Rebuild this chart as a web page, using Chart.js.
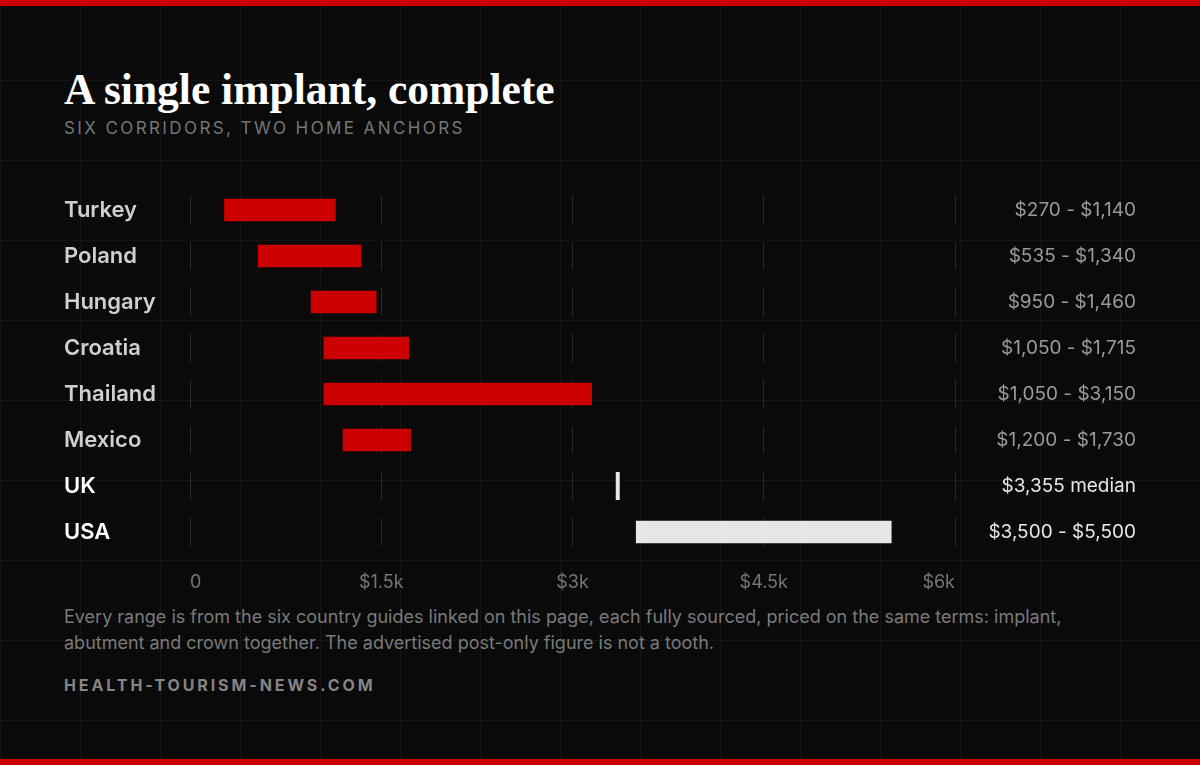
<!DOCTYPE html>
<html>
<head>
<meta charset="utf-8">
<script src="https://cdn.jsdelivr.net/npm/chart.js@4.4.0/dist/chart.umd.min.js"></script>
<style>
  html, body { margin: 0; padding: 0; }
  body {
    width: 1200px; height: 765px; overflow: hidden; position: relative;
    background-color: #0a0a0a;
    background-image:
      linear-gradient(to right, #151515 1px, transparent 1px),
      linear-gradient(to bottom, #151515 1px, transparent 1px);
    background-size: 80px 80px;
    font-family: Inter, "Noto Sans", sans-serif;
  }
  .bar-top, .bar-bottom { position: absolute; left: 0; width: 1200px; height: 6px; background: #cc0000; }
  .bar-top { top: 0; }
  .bar-bottom { bottom: 0; }
  .title {
    position: absolute; left: 64px; top: 62px;
    font-family: "Liberation Serif", serif; font-weight: 700; font-size: 43.5px;
    line-height: 54px; color: #ffffff; white-space: nowrap;
  }
  .subtitle {
    position: absolute; left: 64px; top: 117px;
    font-size: 17px; line-height: 22px; letter-spacing: 2.4px; color: #767676;
  }
  #wrap { position: absolute; left: 0; top: 0; width: 1200px; height: 600px; }
  .note {
    position: absolute; left: 64px; top: 604px; width: 1040px;
    font-size: 18px; line-height: 26px; color: #7a7a7a;
  }
  .brand {
    position: absolute; left: 64px; top: 675px;
    font-size: 16px; line-height: 20px; font-weight: 700; letter-spacing: 2.9px; color: #858585;
  }
</style>
</head>
<body>
<div class="bar-top"></div>
<div class="title">A single implant, complete</div>
<div class="subtitle">SIX CORRIDORS, TWO HOME ANCHORS</div>
<div id="wrap"><canvas id="chart"></canvas></div>
<div class="note">Every range is from the six country guides linked on this page, each fully sourced, priced on the same terms: implant, abutment and crown together. The advertised post-only figure is not a tooth.</div>
<div class="brand">HEALTH-TOURISM-NEWS.COM</div>
<div class="bar-bottom"></div>

<script>
// data
const categories = ['Turkey', 'Poland', 'Hungary', 'Croatia', 'Thailand', 'Mexico', 'UK', 'USA'];
const lows = [270, 535, 950, 1050, 1050, 1200, null, 3500];
const highs = [1140, 1340, 1460, 1715, 3150, 1730, null, 5500];
const medians = [null, null, null, null, null, null, 3355, null];
const home = [false, false, false, false, false, false, true, true];
const tickLabels = ['0', '$1.5k', '$3k', '$4.5k', '$6k'];

const RED = '#cc0000';
const LIGHT = '#e6e6e6';

const money = v => '$' + v.toLocaleString('en-US');
const rangeLabels = categories.map((c, i) =>
  medians[i] != null ? money(medians[i]) + ' median' : money(lows[i]) + ' - ' + money(highs[i]));

const ranges = categories.map((c, i) => lows[i] != null ? [lows[i], highs[i]] : null);
const medianPoints = categories
  .map((c, i) => medians[i] != null ? { x: medians[i], y: c } : null)
  .filter(p => p);

new Chart(document.getElementById('chart'), {
  type: 'bar',
  data: {
    labels: categories,
    datasets: [
      {
        data: ranges,
        backgroundColor: categories.map((c, i) => home[i] ? LIGHT : RED),
        barThickness: 22,
        borderWidth: 0
      },
      {
        // the UK has a single median, drawn as a tick mark
        type: 'line',
        data: medianPoints,
        showLine: false,
        pointStyle: 'line',
        rotation: 90,
        radius: 14,
        pointBorderWidth: 4,
        borderColor: LIGHT,
        backgroundColor: LIGHT,
        yAxisID: 'y',
        xAxisID: 'x'
      }
    ]
  },
  options: {
    indexAxis: 'y',
    responsive: true,
    maintainAspectRatio: false,
    animation: false,
    events: [],
    layout: { padding: { top: 187, left: 64, right: 64, bottom: 0 } },
    plugins: { legend: { display: false }, tooltip: { enabled: false } },
    scales: {
      x: {
        type: 'linear',
        position: 'bottom',
        min: 0,
        max: 6000,
        ticks: {
          stepSize: 1500,
          align: 'inner',
          padding: 17,
          color: '#767676',
          font: { family: 'Inter', size: 18 },
          callback: (v, i) => tickLabels[i]
        },
        grid: { color: '#2a2a2a', lineWidth: 1, drawTicks: false },
        border: { display: false, dash: [28, 18], dashOffset: 37 },
        afterFit: s => { s.height = 45; }
      },
      y: {
        position: 'left',
        grid: { display: false },
        border: { display: false },
        ticks: {
          crossAlign: 'far',
          padding: 0,
          color: ctx => home[ctx.index] ? '#ffffff' : '#cfcfcf',
          font: { family: 'Inter', size: 22, weight: '600' }
        },
        afterFit: s => { s.width = 126; }
      },
      y2: {
        type: 'category',
        position: 'right',
        labels: rangeLabels,
        offset: true,
        grid: { display: false },
        border: { display: false },
        ticks: {
          crossAlign: 'far',
          padding: 0,
          color: ctx => home[ctx.index] ? '#e6e6e6' : '#9a9a9a',
          font: { family: 'Inter', size: 19 }
        },
        afterFit: s => { s.width = 181; }
      }
    }
  }
});
</script>
</body>
</html>
